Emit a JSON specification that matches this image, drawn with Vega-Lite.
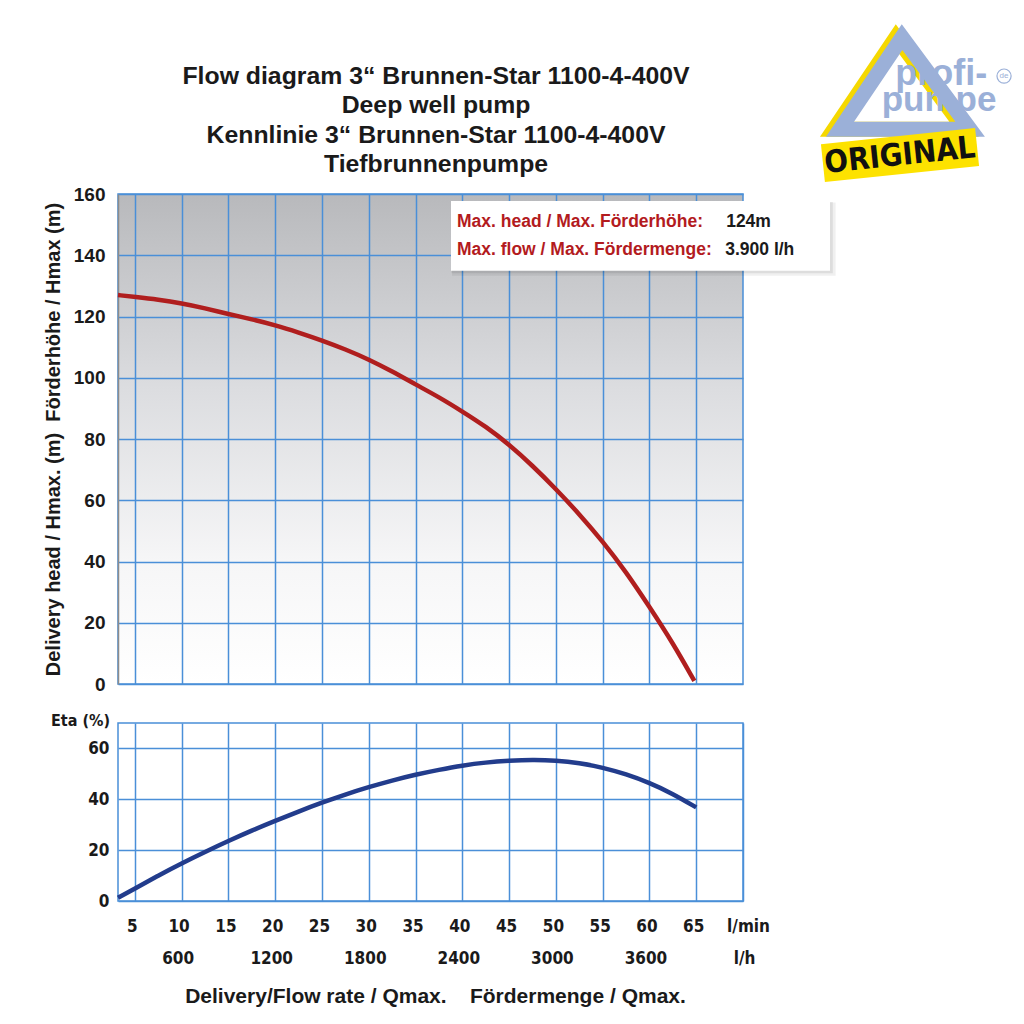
{
  "$schema": "https://vega.github.io/schema/vega-lite/v6.json",
  "padding": {"left": 42, "top": 6, "right": 5, "bottom": 5},
  "background": "white",
  "bounds": "flush",
  "spacing": 39,
  "config": {
    "font": "Liberation Sans",
    "view": {"stroke": "#4a8fd8", "strokeWidth": 1.5},
    "axis": {"gridColor": "#4a8fd8", "gridWidth": 1.5, "gridOpacity": 1, "ticks": false, "labelColor": "#1a1a1a", "titleColor": "#1a1a1a"}
  },
  "datasets": {
    "head": [
      {"q": 3.2, "h": 127.0}, {"q": 5, "h": 126.4}, {"q": 7.5, "h": 125.5}, {"q": 10, "h": 124.3},
      {"q": 12.5, "h": 122.7}, {"q": 15, "h": 120.8}, {"q": 17.5, "h": 119.1}, {"q": 20, "h": 117.2},
      {"q": 22.5, "h": 114.8}, {"q": 25, "h": 112.2}, {"q": 27.5, "h": 109.3}, {"q": 30, "h": 106.0},
      {"q": 32.5, "h": 102.1}, {"q": 35, "h": 97.8}, {"q": 37.5, "h": 93.7}, {"q": 40, "h": 89.0},
      {"q": 42.5, "h": 84.1}, {"q": 45, "h": 78.2}, {"q": 47.5, "h": 71.3}, {"q": 50, "h": 63.7},
      {"q": 52.5, "h": 55.5}, {"q": 55, "h": 46.6}, {"q": 57.5, "h": 36.6}, {"q": 60, "h": 25.2},
      {"q": 62.5, "h": 13.4}, {"q": 64.8, "h": 1.0}
    ],
    "eta": [
      {"q": 3.2, "eta": 1.3}, {"q": 5, "eta": 4.9}, {"q": 7.5, "eta": 10.0}, {"q": 10, "eta": 14.8},
      {"q": 12.5, "eta": 19.3}, {"q": 15, "eta": 23.6}, {"q": 17.5, "eta": 27.7}, {"q": 20, "eta": 31.5},
      {"q": 22.5, "eta": 35.2}, {"q": 25, "eta": 38.7}, {"q": 27.5, "eta": 41.9}, {"q": 30, "eta": 44.8},
      {"q": 32.5, "eta": 47.4}, {"q": 35, "eta": 49.7}, {"q": 37.5, "eta": 51.6}, {"q": 40, "eta": 53.3},
      {"q": 42.5, "eta": 54.5}, {"q": 45, "eta": 55.2}, {"q": 47.5, "eta": 55.6}, {"q": 50, "eta": 55.3},
      {"q": 52.5, "eta": 54.3}, {"q": 55, "eta": 52.5}, {"q": 57.5, "eta": 49.9}, {"q": 60, "eta": 46.5},
      {"q": 62.5, "eta": 42.2}, {"q": 65, "eta": 36.8}
    ]
  },
  "vconcat": [
    {
      "width": 625,
      "height": 490,
      "data": {"values": [{}]},
      "view": {
        "stroke": "#4a8fd8",
        "fill": {"gradient": "linear", "x1": 0, "y1": 0, "x2": 0, "y2": 1,
          "stops": [{"offset": 0, "color": "#b8b9bc"}, {"offset": 0.4, "color": "#dcdde0"}, {"offset": 0.75, "color": "#f6f6f7"}, {"offset": 1, "color": "#ffffff"}]}
      },
      "layer": [
        {
          "data": {"name": "head"},
          "mark": {"type": "line", "color": "#b01e1e", "strokeWidth": 4.5, "interpolate": "basis"},
          "encoding": {
            "x": {"field": "q", "type": "quantitative",
              "scale": {"domain": [3.2, 70], "nice": false, "zero": false},
              "axis": {"values": [5, 10, 15, 20, 25, 30, 35, 40, 45, 50, 55, 60, 65], "grid": true, "labels": false, "domain": false, "title": null}},
            "y": {"field": "h", "type": "quantitative",
              "scale": {"domain": [0, 160], "nice": false},
              "axis": {"values": [0, 20, 40, 60, 80, 100, 120, 140, 160], "grid": true,
                "domainColor": "#8c8c8c", "domainWidth": 1.5,
                "labelFontSize": 19, "labelFontWeight": "bold", "labelPadding": 13,
                "title": "Delivery head / Hmax. (m)\u00a0\u00a0Förderhöhe / Hmax (m)",
                "titleFontSize": 20, "titleFontWeight": "bold", "titlePadding": 10}}
          }
        },
        {
          "mark": {"type": "rule", "opacity": 0},
          "encoding": {
            "x": {"datum": 10, "type": "quantitative",
              "axis": {"orient": "top", "grid": false, "labels": false, "domain": true, "domainColor": "#8c8c8c", "domainWidth": 1.5, "title": null}}
          }
        },
        {
          "mark": {"type": "text", "align": "center", "baseline": "top", "fontSize": 24.8, "fontWeight": "bold", "color": "#1a1a1a", "lineHeight": 29.3},
          "encoding": {"x": {"datum": 37.19}, "y": {"datum": 202.4},
            "text": {"value": ["Flow diagram 3“ Brunnen-Star 1100-4-400V", "Deep well pump", "Kennlinie 3“ Brunnen-Star 1100-4-400V", "Tiefbrunnenpumpe"]}}
        },
        {
          "mark": {"type": "rect", "color": "#000000", "opacity": 0.06},
          "encoding": {"x": {"datum": 38.9}, "x2": {"datum": 79.9}, "y": {"datum": 157.2}, "y2": {"datum": 133.3}}
        },
        {
          "mark": {"type": "rect", "color": "#000000", "opacity": 0.08},
          "encoding": {"x": {"datum": 38.85}, "x2": {"datum": 79.6}, "y": {"datum": 157.4}, "y2": {"datum": 134.1}}
        },
        {
          "mark": {"type": "rect", "color": "#ffffff"},
          "encoding": {"x": {"datum": 38.79}, "x2": {"datum": 79.3}, "y": {"datum": 157.7}, "y2": {"datum": 134.9}}
        },
        {
          "mark": {"type": "text", "align": "left", "baseline": "middle", "fontSize": 17.5, "fontWeight": "bold", "color": "#b31b1e"},
          "encoding": {"x": {"datum": 39.43}, "y": {"datum": 150.9}, "text": {"value": "Max. head / Max. Förderhöhe:"}}
        },
        {
          "mark": {"type": "text", "align": "left", "baseline": "middle", "fontSize": 17.5, "fontWeight": "bold", "color": "#b31b1e"},
          "encoding": {"x": {"datum": 39.43}, "y": {"datum": 141.7}, "text": {"value": "Max. flow / Max. Fördermenge:"}}
        },
        {
          "mark": {"type": "text", "align": "left", "baseline": "middle", "fontSize": 17.5, "fontWeight": "bold", "color": "#1a1a1a"},
          "encoding": {"x": {"datum": 68.2}, "y": {"datum": 150.9}, "text": {"value": "124m"}}
        },
        {
          "mark": {"type": "text", "align": "left", "baseline": "middle", "fontSize": 17.5, "fontWeight": "bold", "color": "#1a1a1a"},
          "encoding": {"x": {"datum": 68.1}, "y": {"datum": 141.7}, "text": {"value": "3.900 l/h"}}
        },
        {
          "mark": {"type": "point", "shape": "M-0.065,-1L-1.413,1L1.413,1Z", "size": 8464, "filled": false, "stroke": "#f5d800", "strokeWidth": 15, "opacity": 1, "strokeJoin": "miter"},
          "encoding": {"x": {"datum": 86.68}, "y": {"datum": 196.2}}
        },
        {
          "mark": {"type": "point", "shape": "M-0.065,-1L-1.413,1L1.413,1Z", "size": 8464, "filled": false, "stroke": "#9bb0d8", "strokeWidth": 15, "opacity": 1, "strokeJoin": "miter"},
          "encoding": {"x": {"datum": 87.32}, "y": {"datum": 196.2}}
        },
        {
          "mark": {"type": "text", "align": "center", "baseline": "alphabetic", "fontSize": 36, "fontWeight": "bold", "color": "#9bb0d8"},
          "encoding": {"x": {"datum": 91.2}, "y": {"datum": 195.6}, "text": {"value": "profi-"}}
        },
        {
          "mark": {"type": "text", "align": "center", "baseline": "alphabetic", "fontSize": 35, "fontWeight": "bold", "color": "#9bb0d8"},
          "encoding": {"x": {"datum": 90.95}, "y": {"datum": 187.0}, "text": {"value": "pumpe"}}
        },
        {
          "mark": {"type": "point", "shape": "circle", "size": 200, "filled": false, "stroke": "#9bb0d8", "strokeWidth": 1.2, "opacity": 1},
          "encoding": {"x": {"datum": 97.9}, "y": {"datum": 198.5}}
        },
        {
          "mark": {"type": "text", "align": "center", "baseline": "middle", "fontSize": 8, "color": "#9bb0d8"},
          "encoding": {"x": {"datum": 97.9}, "y": {"datum": 198.5}, "text": {"value": "de"}}
        },
        {
          "mark": {"type": "point", "shape": "M-2,-0.49L2,-0.49L2,0.49L-2,0.49Z", "size": 6006, "filled": true, "color": "#fde200", "opacity": 1, "angle": -6},
          "encoding": {"x": {"datum": 86.78}, "y": {"datum": 172.7}}
        },
        {
          "mark": {"type": "text", "align": "center", "baseline": "middle", "fontSize": 31, "fontWeight": "bold", "font": "DejaVu Sans Condensed, Liberation Sans", "color": "#111111", "angle": -6},
          "encoding": {"x": {"datum": 86.78}, "y": {"datum": 172.4}, "text": {"value": "ORIGINAL"}}
        }
      ]
    },
    {
      "width": 625,
      "height": 178,
      "data": {"name": "eta"},
      "view": {"stroke": "#4a8fd8", "fill": "#ffffff"},
      "resolve": {"axis": {"x": "independent"}},
      "layer": [
        {
          "mark": {"type": "line", "color": "#223c8c", "strokeWidth": 4.5, "interpolate": "basis"},
          "encoding": {
            "x": {"field": "q", "type": "quantitative",
              "scale": {"domain": [3.2, 70], "nice": false, "zero": false},
              "axis": {"values": [5, 10, 15, 20, 25, 30, 35, 40, 45, 50, 55, 60, 65, 70], "grid": true, "domain": false,
                "labelExpr": "datum.value == 70 ? 'l/min' : datum.label",
                "labelFont": "DejaVu Sans Condensed, Liberation Sans", "labelFontSize": 17, "labelFontWeight": "bold",
                "labelPadding": 17, "labelFlush": false, "labelOverlap": false, "labelBound": false,
                "labelOffset": {"condition": {"test": "datum.value == 70", "value": 5}, "value": -3},
                "title": null}},
            "y": {"field": "eta", "type": "quantitative",
              "scale": {"domain": [0, 70], "nice": false},
              "axis": {"values": [0, 10, 20, 30, 40, 50, 60, 70], "grid": true, "domain": false,
                "labelExpr": "datum.value % 20 == 0 && datum.value < 70 ? datum.label : ''",
                "labelFont": "DejaVu Sans Condensed, Liberation Sans", "labelFontSize": 17, "labelFontWeight": "bold", "labelPadding": 9,
                "title": "Eta (%)", "titleFont": "DejaVu Sans Condensed, Liberation Sans", "titleFontSize": 16, "titleFontWeight": "bold",
                "titleAngle": 0, "titleX": -38, "titleY": -3, "titleAlign": "center", "titleBaseline": "middle"}}
          }
        },
        {
          "mark": {"type": "line", "opacity": 0},
          "encoding": {
            "x": {"field": "q", "type": "quantitative",
              "axis": {"orient": "bottom", "values": [10, 20, 30, 40, 50, 60, 70], "grid": false, "domain": false,
                "labelExpr": "datum.value == 70 ? 'l/h' : format(datum.value * 60, 'd')",
                "labelFont": "DejaVu Sans Condensed, Liberation Sans", "labelFontSize": 17, "labelFontWeight": "bold",
                "labelPadding": 49, "labelFlush": false, "labelOverlap": false, "labelBound": false,
                "labelOffset": {"condition": {"test": "datum.value == 70", "value": 1}, "value": -4},
                "title": "Delivery/Flow rate / Qmax.\u00a0\u00a0\u00a0\u00a0Fördermenge / Qmax.",
                "titleFontSize": 21, "titleFontWeight": "bold",
                "titleX": 317, "titleY": 95, "titleAlign": "center", "titleBaseline": "middle"}},
            "y": {"field": "eta", "type": "quantitative"}
          }
        }
      ]
    }
  ]
}
